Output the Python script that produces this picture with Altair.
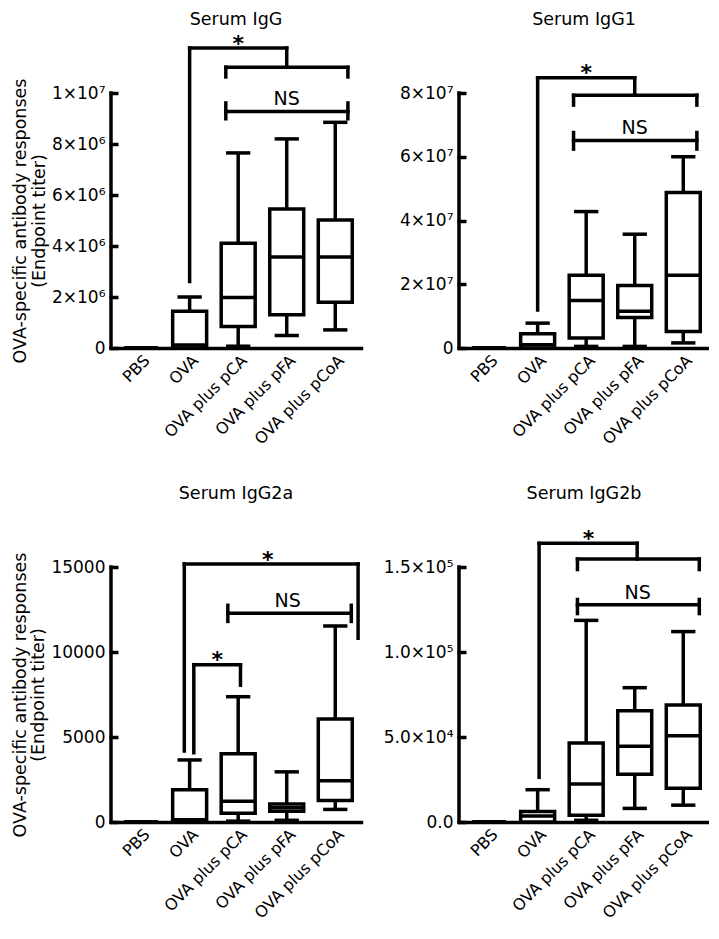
import json
import altair as alt
import pandas as pd

FONT = "DejaVu Sans"

categories = ["PBS", "OVA", "OVA plus pCA", "OVA plus pFA", "OVA plus pCoA"]
positions = [0, 1, 2, 3, 4]

panel_titles = ["Serum IgG", "Serum IgG1", "Serum IgG2a", "Serum IgG2b"]
units = [1e6, 1e7, 1.0, 1e4]
axis_max = [10, 8, 15000, 15]
tick_values = [[0, 2, 4, 6, 8, 10], [0, 2, 4, 6, 8], [0, 5000, 10000, 15000], [0, 5, 10, 15]]
tick_labels = [
    ["0", "2×10⁶", "4×10⁶", "6×10⁶", "8×10⁶", "1×10⁷"],
    ["0", "2×10⁷", "4×10⁷", "6×10⁷", "8×10⁷"],
    ["0", "5000", "10000", "15000"],
    ["0.0", "5.0×10⁴", "1.0×10⁵", "1.5×10⁵"],
]
y_title = ["OVA-specific antibody responses", "(Endpoint titer)"]

# five-number summaries per group (PBS, OVA, pCA, pFA, pCoA), in panel units
igg_min = [0, 0, 0.07, 0.49, 0.71]
igg_q1 = [0, 0, 0.84, 1.30, 1.79]
igg_med = [0, 0.12, 1.98, 3.57, 3.57]
igg_q3 = [0, 1.44, 4.11, 5.45, 5.02]
igg_max = [0, 2.0, 7.65, 8.20, 8.85]

igg1_min = [0, 0, 0.05, 0.05, 0.16]
igg1_q1 = [0, 0, 0.31, 0.96, 0.52]
igg1_med = [0, 0.10, 1.49, 1.15, 2.28]
igg1_q3 = [0, 0.45, 2.28, 1.96, 4.88]
igg1_max = [0, 0.78, 4.28, 3.57, 6.00]

igg2a_min = [0, 0, 50, 100, 740]
igg2a_q1 = [0, 0, 520, 626, 1260]
igg2a_med = [0, 130, 1220, 840, 2420]
igg2a_q3 = [0, 1900, 4010, 1062, 6060]
igg2a_max = [0, 3650, 7370, 2950, 11530]

igg2b_min = [0, 0, 0.10, 0.80, 0.99]
igg2b_q1 = [0, 0, 0.39, 2.81, 1.98]
igg2b_med = [0, 0.35, 2.23, 4.46, 5.08]
igg2b_q3 = [0, 0.62, 4.65, 6.55, 6.88]
igg2b_max = [0, 1.90, 11.86, 7.90, 11.20]

stats = [
    (igg_min, igg_q1, igg_med, igg_q3, igg_max),
    (igg1_min, igg1_q1, igg1_med, igg1_q3, igg1_max),
    (igg2a_min, igg2a_q1, igg2a_med, igg2a_q3, igg2a_max),
    (igg2b_min, igg2b_q1, igg2b_med, igg2b_q3, igg2b_max),
]

# significance brackets: segments (x, x2, y, y2) in category / panel units
brk_x = [
    [1.0, 1.0, 3.0, 1.745, 1.745, 4.26, 1.745, 1.745, 4.26],
    [1.0, 1.0, 3.0, 1.74, 1.74, 4.28, 1.74, 1.74, 4.28],
    [0.89, 0.89, 4.47, 1.086, 1.086, 2.047, 1.787, 1.787, 4.33],
    [1.03, 1.03, 3.05, 1.82, 1.82, 4.33, 1.82, 1.82, 4.33],
]
brk_x2 = [
    [1.0, 3.0, 3.0, 4.26, 1.745, 4.26, 4.26, 1.745, 4.26],
    [1.0, 3.0, 3.0, 4.28, 1.74, 4.28, 4.28, 1.74, 4.28],
    [0.89, 4.47, 4.47, 1.086, 2.047, 2.047, 4.33, 1.787, 4.33],
    [1.03, 3.05, 3.05, 4.33, 1.82, 4.33, 4.33, 1.82, 4.33],
]
brk_y = [
    [2.61, 11.76, 11.76, 11.01, 11.01, 11.01, 9.27, 8.99, 8.99],
    [1.19, 8.48, 8.48, 7.93, 7.93, 7.93, 6.51, 6.24, 6.24],
    [4173, 15175, 15175, 4075, 9255, 9255, 12282, 11799, 11799],
    [2.63, 16.39, 16.39, 15.47, 15.47, 15.47, 12.78, 12.26, 12.26],
]
brk_y2 = [
    [11.76, 11.76, 11.01, 11.01, 10.63, 10.63, 9.27, 9.61, 9.61],
    [8.48, 8.48, 7.93, 7.93, 7.62, 7.62, 6.51, 6.76, 6.76],
    [15175, 15175, 10809, 9255, 9255, 8050, 12282, 12747, 12747],
    [16.39, 16.39, 15.47, 15.47, 14.85, 14.85, 12.78, 13.09, 13.09],
]
# annotation texts
ann_text = [["*", "NS"], ["*", "NS"], ["*", "*", "NS"], ["*", "NS"]]
ann_x = [[2.0, 3.0], [2.0, 3.0], [2.61, 1.57, 3.02], [2.05, 3.06]]
ann_y = [[11.65, 9.53], [8.4, 6.72], [15000, 9120, 12631], [16.22, 13.12]]

X_DOMAIN = [-0.62, 4.53]
W, H = 250, 255
LW = 3.5


def panel(k):
    u = units[k]
    mn, q1, md, q3, mx = stats[k]
    box = pd.DataFrame({
        "pos": positions,
        "group": categories,
        "mn": [v * u for v in mn],
        "q1": [v * u for v in q1],
        "md": [v * u for v in md],
        "q3": [v * u for v in q3],
        "mx": [v * u for v in mx],
    })
    seg = pd.DataFrame({
        "x": brk_x[k], "x2": brk_x2[k],
        "y": [v * u for v in brk_y[k]], "y2": [v * u for v in brk_y2[k]],
    })
    ann = pd.DataFrame({"x": ann_x[k], "y": [v * u for v in ann_y[k]], "t": ann_text[k]})
    ann_star = ann[ann.t == "*"]
    ann_ns = ann[ann.t != "*"]
    yline = pd.DataFrame({"x": [X_DOMAIN[0]], "y": [0.0], "y2": [axis_max[k] * u]})
    ttl = pd.DataFrame({"t": [panel_titles[k]]})

    xs = alt.Scale(domain=X_DOMAIN, nice=False, zero=False)
    ys = alt.Scale(domain=[0, axis_max[k] * u], nice=False, zero=False)

    xaxis = alt.Axis(
        values=positions,
        labelExpr=json.dumps(categories) + "[datum.value]",
        labelAngle=-45, labelAlign="right", labelBaseline="top",
        ticks=False, domainWidth=LW, domainColor="black", domainCap="square",
        labelFont=FONT, labelFontSize=16, labelColor="black", labelPadding=4,
        labelOverlap=False, labelFlush=False, grid=False, title=None,
    )
    ymap = {str(int(round(v * u))): lab for v, lab in zip(tick_values[k], tick_labels[k])}
    yaxis_kw = dict(
        values=[v * u for v in tick_values[k]],
        labelExpr=json.dumps(ymap, ensure_ascii=False) + "[datum.value]",
        domain=False, offset=-7, tickSize=9, tickWidth=LW, tickColor="black",
        labelFont=FONT, labelFontSize=17, labelColor="black", labelPadding=4,
        labelOverlap=False, labelFlush=False, grid=False,
    )
    if k in (0, 2):
        yaxis = alt.Axis(title=y_title, titleFont=FONT, titleFontSize=17.5,
                         titleFontWeight="normal", titleColor="black",
                         titlePadding=3, titleLineHeight=18.5, **yaxis_kw)
    else:
        yaxis = alt.Axis(title=None, **yaxis_kw)

    base = alt.Chart(box)
    whisk_lo = base.mark_rule(color="black", strokeWidth=LW).encode(
        x=alt.X("pos:Q", scale=xs, axis=xaxis),
        y=alt.Y("mn:Q", scale=ys, axis=yaxis),
        y2="q1:Q",
    )
    whisk_hi = base.mark_rule(color="black", strokeWidth=LW).encode(
        x="pos:Q", y="q3:Q", y2="mx:Q")
    caps_hi = base.transform_calculate(l="datum.pos - 0.25", r="datum.pos + 0.25").mark_rule(
        color="black", strokeWidth=LW).encode(x="l:Q", x2="r:Q", y="mx:Q")
    caps_lo = base.transform_calculate(l="datum.pos - 0.25", r="datum.pos + 0.25").mark_rule(
        color="black", strokeWidth=LW).encode(x="l:Q", x2="r:Q", y="mn:Q")
    boxes = base.transform_calculate(l="datum.pos - 0.35", r="datum.pos + 0.35").mark_bar(
        fill="white", stroke="black", strokeWidth=LW).encode(
        x="l:Q", x2="r:Q", y="q1:Q", y2="q3:Q")
    medians = base.transform_calculate(l="datum.pos - 0.35", r="datum.pos + 0.35").mark_rule(
        color="black", strokeWidth=LW).encode(x="l:Q", x2="r:Q", y="md:Q")
    axis_line = alt.Chart(yline).mark_rule(color="black", strokeWidth=LW, strokeCap="square").encode(
        x="x:Q", y="y:Q", y2="y2:Q")
    brackets = alt.Chart(seg).mark_rule(color="black", strokeWidth=LW, strokeCap="square").encode(
        x="x:Q", x2="x2:Q", y="y:Q", y2="y2:Q")
    stars = alt.Chart(ann_star).mark_text(font=FONT, fontSize=22, fontWeight="bold", color="black",
                                          align="center", baseline="alphabetic").encode(
        x="x:Q", y="y:Q", text="t:N")
    ns = alt.Chart(ann_ns).mark_text(font=FONT, fontSize=19, color="black",
                                     align="center", baseline="alphabetic").encode(
        x="x:Q", y="y:Q", text="t:N")
    title = alt.Chart(ttl).mark_text(font=FONT, fontSize=17.5, color="black",
                                     align="center", baseline="alphabetic").encode(
        x=alt.value(W / 2), y=alt.value(-68), text="t:N")

    return alt.layer(
        whisk_lo, whisk_hi, caps_hi, caps_lo, boxes, medians, axis_line, brackets, stars, ns, title
    ).properties(width=W, height=H)


chart = alt.concat(
    panel(0), panel(1), panel(2), panel(3),
    columns=2, spacing={"row": 219, "column": 98}, bounds="flush",
).properties(padding={"left": 3, "top": 3, "right": 0, "bottom": 0}).configure_view(stroke=None)

chart.save("out.html", embed_options={"renderer": "svg", "actions": False})
